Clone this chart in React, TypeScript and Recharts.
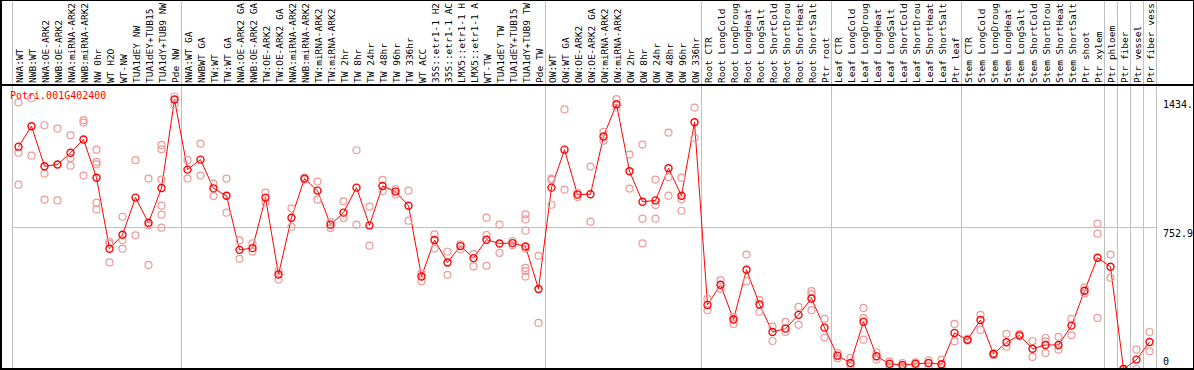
import {
  ComposedChart,
  Line,
  ReferenceLine,
  Scatter,
  XAxis,
  YAxis,
} from "recharts"

const geneId = "Potri.001G402400"

const categories = [
  "NWA:WT", "NWB:WT", "NWA:OE-ARK2", "NWB:OE-ARK2", "NWA:miRNA-ARK2", "NWB:miRNA-ARK2",
  "NW 0hr", "WT H2O", "WT-NW", "TUA1dEY NW", "TUA1dEY+TUB15", "TUA1dY+TUB9 NW", "Pde NW",
  "NWA:WT GA", "NWBWT GA", "TW:WT", "TW:WT GA", "NWA:OE-ARK2 GA", "NWB:OE-ARK2 GA",
  "TW:OE-ARK2", "TW:OE-ARK2 GA", "NWA:miRNA-ARK2", "NWB:miRNA-ARK2", "TW:miRNA-ARK2",
  "TW:miRNA-ARK2", "TW 2hr", "TW 8hr", "TW 24hr", "TW 48hr", "TW 96hr", "TW 336hr",
  "WT ACC", "35S::etr1-1 H2", "35S::etr1-1 AC", "LMX5::etr1-1 H", "LMX5::etr1-1 A",
  "WT-TW", "TUA1dEY TW", "TUA1dEY+TUB15", "TUA1dY+TUB9 TW", "Pde TW",
  "OW:WT", "OW:WT GA", "OW:OE-ARK2", "OW:OE-ARK2 GA", "OW:miRNA-ARK2", "OW:miRNA-ARK2",
  "OW 2hr", "OW 8hr", "OW 24hr", "OW 48hr", "OW 96hr", "OW 336hr",
  "Root CTR", "Root LongCold", "Root LongDroug", "Root LongHeat", "Root LongSalt",
  "Root ShortCold", "Root ShortDrou", "Root ShortHeat", "Root ShortSalt", "Ptr root",
  "Leaf CTR", "Leaf LongCold", "Leaf LongDroug", "Leaf LongHeat", "Leaf LongSalt",
  "Leaf ShortCold", "Leaf ShortDrou", "Leaf ShortHeat", "Leaf ShortSalt", "Ptr leaf",
  "Stem CTR", "Stem LongCold", "Stem LongDroug", "Stem LongHeat", "Stem LongSalt",
  "Stem ShortCold", "Stem ShortDrou", "Stem ShortHeat", "Stem ShortSalt", "Ptr shoot",
  "Ptr xylem", "Ptr phloem", "Ptr fiber", "Ptr vessel", "Ptr fiber vess",
]

const meanValues = [
  1183, 1292, 1079, 1088, 1151, 1221, 1018, 640, 714, 912, 778, 963, 1434,
  1061, 1114, 961, 922, 634, 643, 912, 503, 805, 1013, 949, 768, 832, 965, 764,
  974, 944, 869, 492, 686, 567, 654, 590, 688, 668, 670, 652, 426,
  965, 1167, 928, 930, 1237, 1409, 1052, 890, 897, 1068, 922, 1313,
  341, 448, 263, 528, 343, 197, 215, 288, 375, 220,
  71, 32, 251, 68, 28, 21, 28, 32, 25, 192,
  155, 261, 80, 142, 179, 108, 128, 128, 231, 416, 592,
  544, 0, 50, 144,
]

const replicateValues = [
  [1418, 1151, 981], [1441, 1135], [1297, 1040, 901], [1279, 897], [1244, 1123, 1082],
  [1324, 1311, 1029], [1167, 1102, 1089, 885, 848], [675, 666, 567], [810, 686, 640],
  [1111, 711], [1013, 764, 554], [1191, 1169, 1008, 869, 821, 752], [1450, 1409],
  [1111, 1013], [1199, 1029], [986, 920], [1013, 832], [684, 586], [668, 625],
  [938, 885], [521, 476], [855, 757], [1018, 1008], [997, 901], [782, 750],
  [892, 803], [1164, 768], [864, 656], [1006, 947], [956, 929], [949, 789],
  [508, 467], [716, 641], [624, 501], [663, 636], [611, 546], [805, 713, 549],
  [768, 618], [681, 659], [823, 796, 736, 640, 538, 521, 492], [602, 245],
  [1013, 1006, 874], [1381, 954], [938, 915], [1077, 784], [1262, 1214], [1436, 1390],
  [1141, 960], [1194, 800, 668], [1008, 873, 800], [1258, 1020, 922], [1018, 903, 842],
  [1391, 1230],
  [373, 313], [473, 426], [277, 240], [609, 466], [366, 304], [226, 149], [251, 197],
  [331, 235], [414, 398, 313], [267, 167],
  [85, 57], [59, 14], [325, 272, 156], [89, 50], [41, 14], [32, 11], [36, 14],
  [46, 11], [50, 4], [240, 147],
  [160, 151], [288, 208], [85, 75], [187, 119], [187, 174], [149, 64], [165, 147, 85],
  [171, 103], [267, 179], [434, 402], [773, 720, 272],
  [609, 485], [0, 0], [103, 0], [197, 94],
]

// category index where each group starts (plus the end)
const groupBreaks = [0, 13, 41, 53, 63, 73, 84, 85, 86, 87, 88]

const yMax = 1505.8
const yTicks = [0, 752.9, 1434]
const yTickLabels = ["0", "752.9", "1434."]

const rows = categories.map((name, i) => ({ name, x: i + 0.5, mean: meanValues[i] }))
const replicatePoints = replicateValues.flatMap((vals, i) =>
  vals.map((y) => ({ x: i + 0.5, y }))
)
const tickCenters = rows.map((r) => r.x)

const MONO = "'DejaVu Sans Mono', monospace"
const GRID = "#c0c0c0"

const HeaderTick = ({ x, y, payload }: any) => {
  const label = categories[Math.floor(payload.value)]
  const bx = x + 4.5
  return (
    <text
      x={bx}
      y={y}
      transform={`rotate(-90, ${bx}, ${y})`}
      textAnchor="start"
      fontFamily={MONO}
      fontSize={9.5}
      fill="#000"
    >
      {label}
    </text>
  )
}

const ValueTick = ({ x, y, payload }: any) => {
  const i = yTicks.indexOf(payload.value)
  const dy = payload.value === 0 ? -4 : 9
  return (
    <text x={x} y={y + dy} textAnchor="start" fontFamily={MONO} fontSize={10} fill="#000">
      {yTickLabels[i]}
    </text>
  )
}

const FullHeightLine = (props: any) => (
  <line
    x1={props.x1}
    x2={props.x2}
    y1={0}
    y2={Math.max(props.y1, props.y2)}
    stroke={GRID}
    strokeWidth={1}
    shapeRendering="crispEdges"
  />
)

const MeanDot = ({ cx, cy, index }: any) => (
  <circle key={index} cx={cx} cy={cy} r={3.5} fill="none" stroke="#ff0000" strokeWidth={1.4} />
)

const ReplicateDot = ({ cx, cy }: any) => (
  <circle cx={cx} cy={cy} r={3.5} fill="none" stroke="#ec9a9a" strokeWidth={1.2} />
)

const bar = (style: React.CSSProperties) => (
  <div style={{ position: "absolute", background: "#000", ...style }} />
)

export default function App() {
  return (
    <div style={{ position: "relative", width: 1194, height: 370, background: "#fff", overflow: "hidden" }}>
      <style>{"body{margin:0}"}</style>
      <ComposedChart
        width={1194}
        height={370}
        data={rows}
        margin={{ top: 0, left: 12, right: 0, bottom: 1 }}
      >
        <XAxis
          dataKey="x"
          type="number"
          orientation="top"
          domain={[0, categories.length]}
          ticks={tickCenters}
          interval={0}
          height={86}
          axisLine={false}
          tickLine={false}
          tickSize={0}
          tickMargin={3}
          tick={<HeaderTick />}
        />
        <YAxis
          type="number"
          orientation="right"
          domain={[0, yMax]}
          ticks={yTicks}
          interval={0}
          width={38}
          axisLine={false}
          tickLine={false}
          tickSize={0}
          tickMargin={7}
          tick={<ValueTick />}
        />
        <ReferenceLine y={yMax / 2} stroke={GRID} strokeWidth={1} shapeRendering="crispEdges" />
        {groupBreaks.map((b) => (
          <ReferenceLine key={b} x={b} shape={FullHeightLine} />
        ))}
        <Scatter
          data={replicatePoints}
          dataKey="y"
          shape={ReplicateDot}
          isAnimationActive={false}
        />
        <Line
          type="linear"
          dataKey="mean"
          stroke="#ff0000"
          strokeWidth={1}
          dot={MeanDot}
          activeDot={false}
          isAnimationActive={false}
        />
      </ComposedChart>
      {bar({ left: 0, top: 0, width: 1194, height: 1 })}
      {bar({ left: 0, top: 0, width: 2, height: 370 })}
      {bar({ left: 1193, top: 0, width: 1, height: 370 })}
      {bar({ left: 0, top: 84, width: 1194, height: 2 })}
      {bar({ left: 0, top: 368, width: 1194, height: 2 })}
      <div
        style={{
          position: "absolute",
          left: 10,
          top: 91,
          color: "#ff0000",
          fontFamily: MONO,
          fontSize: 10,
          lineHeight: "10px",
        }}
      >
        {geneId}
      </div>
    </div>
  )
}
